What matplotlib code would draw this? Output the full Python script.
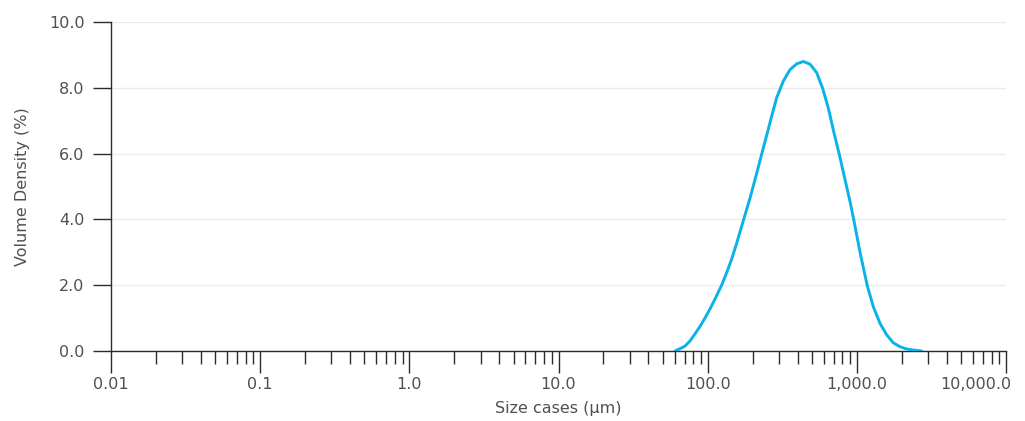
import matplotlib
matplotlib.use("Agg")
import matplotlib.pyplot as plt
from matplotlib.ticker import FixedLocator, LogLocator, NullFormatter
from matplotlib.transforms import ScaledTranslation

# particle size (µm) and volume density (%)
size_um = [60.4, 65.2, 70.5, 76.2, 82.2, 88.9, 95.9, 103.7, 112, 124, 134, 145,
           157, 173, 192, 213, 230, 249, 269, 290, 321, 356, 395, 438, 485,
           538, 590, 644, 695, 762, 834, 900, 957, 1050, 1175, 1288, 1429,
           1585, 1754, 1945, 2158, 2389, 2720]
density = [0.0, 0.07, 0.15, 0.31, 0.52, 0.75, 1.0, 1.28, 1.58, 2.0, 2.38, 2.8,
           3.3, 3.95, 4.64, 5.4, 5.98, 6.57, 7.15, 7.7, 8.2, 8.55, 8.73, 8.8,
           8.72, 8.46, 7.98, 7.38, 6.72, 5.98, 5.2, 4.54, 3.95, 3.0, 1.98, 1.35,
           0.84, 0.49, 0.25, 0.13, 0.06, 0.03, 0.0]

x_ticks = [0.01, 0.1, 1, 10, 100, 1000, 10000]
x_labels = ["0.01", "0.1", "1.0", "10.0", "100.0", "1,000.0", "10,000.0"]
y_ticks = [0, 2, 4, 6, 8, 10]
y_labels = ["0.0", "2.0", "4.0", "6.0", "8.0", "10.0"]

LINE = "#0ab2e8"
AXIS = "#2b2b2b"
TEXT = "#505050"

fig = plt.figure(figsize=(10.25, 4.21), dpi=100)
ax = fig.add_axes([0.1083, 0.1663, 0.8732, 0.7814])

ax.plot(size_um, density, color=LINE, linewidth=2.1, solid_capstyle="round",
        solid_joinstyle="round", zorder=3)

ax.set_xscale("log")
ax.set_xlim(0.01, 10000)
ax.set_ylim(0, 10)

ax.xaxis.set_major_locator(FixedLocator(x_ticks))
ax.set_xticklabels(x_labels)
ax.xaxis.set_minor_locator(LogLocator(base=10, subs=range(2, 10), numticks=20))
ax.xaxis.set_minor_formatter(NullFormatter())
ax.set_yticks(y_ticks)
ax.set_yticklabels(y_labels)

ax.grid(axis="y", color="#ebebeb", linewidth=1.0, zorder=0)
ax.set_axisbelow(True)

for side in ["top", "right"]:
    ax.spines[side].set_visible(False)
for side in ["left", "bottom"]:
    ax.spines[side].set_color(AXIS)
    ax.spines[side].set_linewidth(1.0)

ax.tick_params(axis="x", which="major", direction="out", length=16, width=1.0,
               color=AXIS, labelcolor=TEXT, labelsize=11.5, pad=3)
ax.tick_params(axis="x", which="minor", direction="out", length=9, width=1.0,
               color=AXIS)
ax.tick_params(axis="y", which="major", direction="out", length=13, width=1.0,
               color=AXIS, labelcolor=TEXT, labelsize=11.5, pad=6)

# last label sits flush with the right end of the axis, like the reference
last = ax.get_xticklabels()[-1]
last.set_horizontalalignment("right")
last.set_transform(last.get_transform() + ScaledTranslation(4 / 72, 0, fig.dpi_scale_trans))

ax.set_xlabel("Size cases (µm)", color=TEXT, fontsize=11.5, labelpad=6)
ax.set_ylabel("Volume Density (%)", color=TEXT, fontsize=11.5, labelpad=14)

fig.savefig("out.png", dpi=100, facecolor="white")
